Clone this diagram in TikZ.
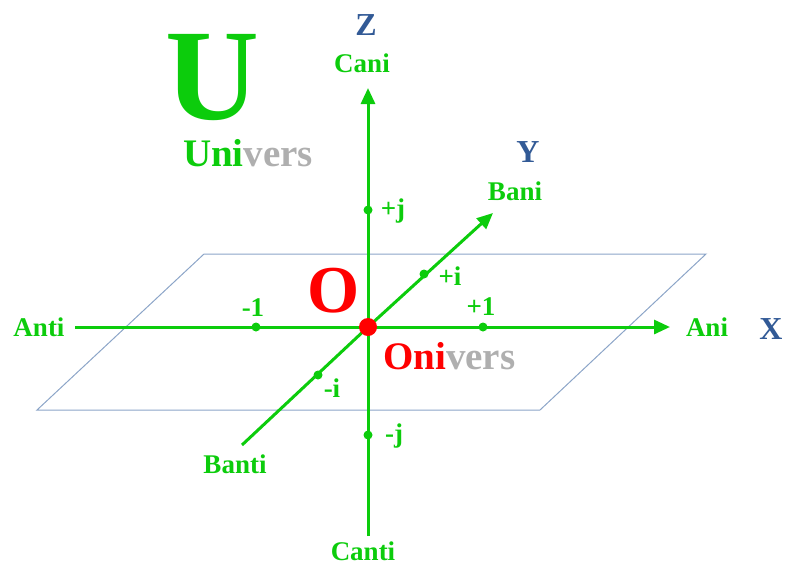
\documentclass[tikz,border=0pt]{standalone}
\usepackage{fontspec}
\setmainfont{Liberation Serif}
\usetikzlibrary{arrows.meta}
\definecolor{agreen}{RGB}{12,204,12}
\definecolor{ablue}{RGB}{50,90,150}
\definecolor{pblue}{RGB}{140,165,200}
\definecolor{agrey}{RGB}{175,175,175}
\definecolor{ared}{RGB}{255,0,0}
\begin{document}
\begin{tikzpicture}[x=1pt,y=-1pt,
 lbl/.style={font=\fontsize{27}{30}\selectfont\bfseries, text=agreen, inner sep=0pt, anchor=base},
 axlbl/.style={font=\fontsize{32}{36}\selectfont\bfseries, text=ablue, inner sep=0pt, anchor=base},
 axisline/.style={draw=agreen, line width=3pt},
 arr/.style={-{Triangle[length=16pt,width=14pt]}},
 dotmark/.style={circle, fill=agreen, inner sep=0pt, minimum size=9pt},
 plane/.style={draw=pblue, line width=1pt},
 word/.style={font=\fontsize{39}{42}\selectfont\bfseries, inner sep=0pt, anchor=base}]
\useasboundingbox (0,0) rectangle (787,566);
% plane
\coordinate (p1) at (204,254);
\coordinate (p2) at (706,254);
\coordinate (p3) at (540,410);
\coordinate (p4) at (37,410);
\draw[plane] (p1) -- (p2) -- (p3) -- (p4) -- cycle;
% axis ends
\coordinate (O) at (368,327);
\coordinate (xneg) at (75,327);
\coordinate (xpos) at (670,327);
\coordinate (zpos) at (368,88);
\coordinate (zneg) at (368,536);
\coordinate (yneg) at (242,445);
\coordinate (ypos) at (493,213);
\draw[axisline] (xneg) -- (O);
\draw[axisline,arr] (O) -- (xpos);
\draw[axisline,arr] (zneg) -- (zpos);
\draw[axisline] (yneg) -- (O);
\draw[axisline,arr] (O) -- (ypos);
% dots
\node[dotmark] (m1) at (256,327) {};
\node[dotmark] (p1d) at (483,327) {};
\node[dotmark] (pi) at (424,274) {};
\node[dotmark] (mi) at (318,375) {};
\node[dotmark] (pj) at (368,210) {};
\node[dotmark] (mj) at (368,435) {};
\node[circle, fill=ared, inner sep=0pt, minimum size=18pt] (origin) at (O) {};
% small labels
\node[lbl] (lm1) at (253,316) {-1};
\node[lbl] (lp1) at (481,315) {+1};
\node[lbl] (lpi) at (450,285) {+i};
\node[lbl] (lmi) at (332,397) {-i};
\node[lbl] (lpj) at (393,217) {+j};
\node[lbl] (lmj) at (394,442) {-j};
\node[lbl] (anti) at (39,336) {Anti};
\node[lbl] (ani) at (707,336) {Ani};
\node[lbl] (cani) at (362,72) {Cani};
\node[lbl] (canti) at (363,560) {Canti};
\node[lbl] (bani) at (515,200) {Bani};
\node[lbl] (banti) at (235,473) {Banti};
% axis names
\node[axlbl] (X) at (771,339) {X};
\node[axlbl] (Y) at (528,162) {Y};
\node[axlbl] (Z) at (366,35) {Z};
% big letters
\node[font=\fontsize{130}{130}\selectfont\bfseries, text=agreen, inner sep=0pt, anchor=base, text depth=0pt] (U) at (212,119) {U};
\node[word] (univers) at (248,166) {\textcolor{agreen}{Uni}\textcolor{agrey}{vers}};
\node[font=\fontsize{67}{67}\selectfont\bfseries, text=ared, inner sep=0pt, anchor=base] (bigO) at (334,312) {O};
\node[word, anchor=base west] (onivers) at (383,369) {\textcolor{ared}{Oni}\textcolor{agrey}{vers}};
\end{tikzpicture}
\end{document}
